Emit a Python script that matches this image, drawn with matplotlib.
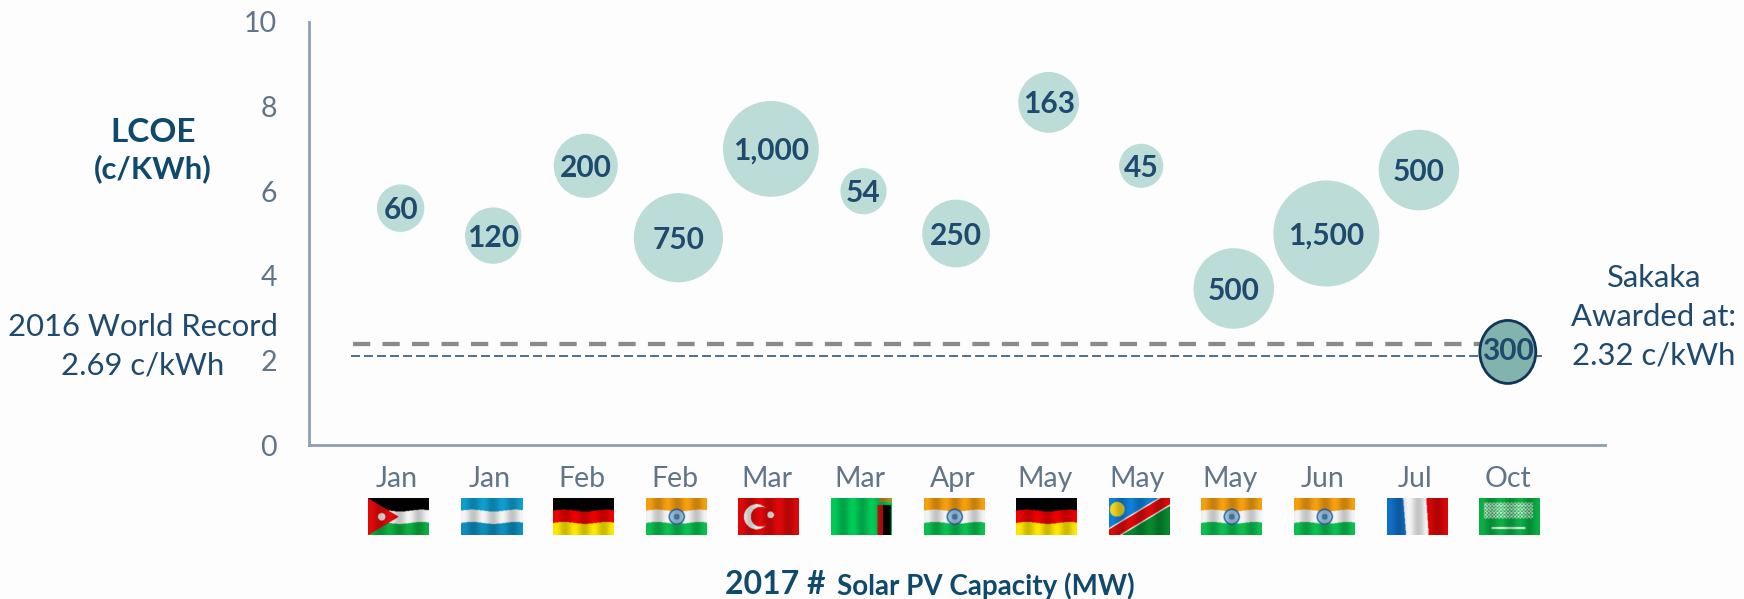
#!/usr/bin/env python3
"""LCOE of 2017 solar PV awards, bubble size follows capacity."""

import matplotlib
import numpy as np

matplotlib.use("Agg")
import matplotlib.pyplot as plt
from matplotlib.patches import Ellipse

WIDTH, HEIGHT = 1744, 599

months = ["Jan", "Jan", "Feb", "Feb", "Mar", "Mar", "Apr", "May", "May", "May", "Jun", "Jul", "Oct"]
countries = [
    "jordan", "honduras", "germany", "india", "turkey", "zambia", "india",
    "germany", "namibia", "india", "india", "france", "saudi",
]
lcoe = [5.6, 4.95, 6.6, 4.9, 7.0, 6.0, 5.0, 8.1, 6.6, 3.7, 5.0, 6.5]
capacity = [60, 120, 200, 750, 1000, 54, 250, 163, 45, 500, 1500, 500]
capacity_labels = ["60", "120", "200", "750", "1,000", "54", "250", "163", "45", "500", "1,500", "500"]
sakaka_lcoe = 2.2
sakaka_capacity = "300"
record_line = 2.38
sakaka_line = 2.1
y_ticks = [0, 2, 4, 6, 8, 10]

FONT = "Lato"
BLUE = "#1f4a6e"
TITLE_BLUE = "#0f4a6c"
GREY = "#617589"
AXIS = "#8f9fb0"
BUBBLE = "#bbdcd7"


def _flag(name: str) -> np.ndarray:
    h, w = 74, 122
    yy, xx = np.mgrid[0:h, 0:w]
    u, t = xx / w, yy / h
    # cloth ripple bends the stripes a little
    v = t + 0.025 * np.sin(u * 9.0)
    img = np.ones((h, w, 3))
    ar = w / h

    def paint(mask, color):
        img[mask] = np.array(matplotlib.colors.to_rgb(color))

    def stripes(colors):
        n = len(colors)
        for i, color in enumerate(colors):
            paint((v >= (i / n if i else -1)) & (v < ((i + 1) / n if i < n - 1 else 2)), color)

    if name == "germany":
        stripes(["#000000", "#ee0000", "#ffe800"])
    elif name == "honduras":
        stripes(["#0f9fd0", "#f4f4f4", "#0f8fc0"])
    elif name == "india":
        stripes(["#f7a010", "#f4f4f4", "#0cc050"])
        disc = np.hypot((u - 0.5) * ar, t - 0.5)
        paint(disc < 0.22, "#3070b0")
        paint(disc < 0.18, "#a8cce6")
        paint(disc < 0.08, "#4a8cc4")
    elif name == "jordan":
        stripes(["#000000", "#f4f4f4", "#0cb040"])
        paint(u < 0.5 * (1 - np.abs(t - 0.5) * 2), "#e20a0a")
        paint(np.hypot((u - 0.22) * ar, t - 0.5) < 0.1, "#f4f4f4")
    elif name == "turkey":
        img[:] = matplotlib.colors.to_rgb("#e00808")
        outer = np.hypot((u - 0.30) * ar, t - 0.5)
        inner = np.hypot((u - 0.37) * ar, t - 0.5)
        paint((outer < 0.34) & (inner > 0.27), "#f6f6f6")
        paint(np.hypot((u - 0.53) * ar, t - 0.45) < 0.09, "#f6f6f6")
    elif name == "zambia":
        img[:] = matplotlib.colors.to_rgb("#00cc58")
        paint((u > 0.76) & (u <= 0.85) & (t > 0.18), "#d81010")
        paint((u > 0.85) & (u <= 0.98) & (t > 0.18), "#000000")
        paint((u > 0.78) & (t <= 0.1), "#c08a20")
    elif name == "france":
        img[:] = matplotlib.colors.to_rgb("#f6f6f6")
        paint(u < 0.26 + 0.05 * t, "#1070c8")
        paint(u > 0.64 + 0.04 * t, "#dd0606")
    elif name == "namibia":
        d = t - 1.0 + u
        img[:] = matplotlib.colors.to_rgb("#1080d8")
        paint(d > 0.12, "#068a30")
        paint(np.abs(d) < 0.2, "#f6f6f6")
        paint(np.abs(d) < 0.16, "#dd0a0a")
        paint(np.hypot((u - 0.13) * ar, t - 0.3) < 0.2, "#f0d820")
    elif name == "saudi":
        img[:] = matplotlib.colors.to_rgb("#0ab044")
        script = (np.abs(t - 0.33) < 0.22) & (u > 0.08) & (u < 0.88)
        paint(script & (np.sin(xx * 0.9) * np.sin(yy * 0.9) > -0.05), "#dff0e4")
        paint((np.abs(t - 0.8) < 0.025) & (u > 0.2) & (u < 0.76), "#eef6f0")
    # soft vertical folds
    shade = 0.9 + 0.1 * np.sin(u * 20.0 + 0.8)
    return np.clip(img * shade[..., None], 0, 1)


def main() -> int:
    fig = plt.figure(figsize=(WIDTH / 100, HEIGHT / 100), dpi=100, facecolor="#fdfdfd")
    ax = fig.add_axes([309 / WIDTH, 1 - 445 / HEIGHT, 1296 / WIDTH, 423 / HEIGHT], facecolor="none")

    ax.set_xlim(-0.95, 13.05)
    ax.set_ylim(0, 10)
    for side in ["top", "right"]:
        ax.spines[side].set_visible(False)
    for side in ["left", "bottom"]:
        ax.spines[side].set_color(AXIS)
        ax.spines[side].set_linewidth(2.0)

    ax.set_yticks(y_ticks)
    ax.tick_params(axis="y", length=0, pad=23, labelsize=20.5, labelcolor=GREY)
    ax.set_xticks(range(len(months)))
    ax.set_xticklabels(months)
    ax.tick_params(axis="x", length=0, pad=15, labelsize=20.5, labelcolor=GREY)
    for label in ax.get_xticklabels() + ax.get_yticklabels():
        label.set_fontfamily(FONT)

    xs = np.arange(len(lcoe)) + 0.04
    # radius grows with the fourth root of capacity
    radius_px = 53.0 * (np.array(capacity) / 1500.0) ** 0.25
    ax.scatter(xs, lcoe, s=(2 * radius_px * 0.72) ** 2, color=BUBBLE, linewidths=0, zorder=2, clip_on=False)
    for x, y, text in zip(xs, lcoe, capacity_labels):
        ax.annotate(text, (x, y), xytext=(0, -1.5), textcoords="offset points", ha="center", va="center",
                    fontsize=21.5, fontweight="bold", color=BLUE, family=FONT, zorder=4)

    x_per_px = 14.0 / 1296
    y_per_px = 10.0 / 423
    ax.plot([-0.475, 11.98], [record_line, record_line], color="#8a8a8a", lw=3.1,
            dashes=(4.0, 2.85), zorder=1)
    ax.plot([-0.5, 12.37], [sakaka_line, sakaka_line], color=BLUE, lw=1.1,
            dashes=(5.89, 2.62), zorder=1)
    ax.add_patch(Ellipse((12.0, sakaka_lcoe), 56 * x_per_px, 63 * y_per_px, facecolor="#82b4ad",
                         edgecolor="#12355b", linewidth=2.0, zorder=3, clip_on=False))
    ax.text(12.0, sakaka_lcoe + 0.03, sakaka_capacity, ha="center", va="center", fontsize=21.5,
            fontweight="bold", color=BLUE, family=FONT, zorder=4)

    def px_text(x, y, text, size, color=BLUE, weight="normal", ha="center"):
        fig.text(x / WIDTH, 1 - y / HEIGHT, text, fontsize=size, color=color, fontweight=weight,
                 ha=ha, va="center", family=FONT)

    px_text(153, 132, "LCOE", 24, TITLE_BLUE, "bold")
    px_text(153, 169, "(c/KWh)", 22.3, TITLE_BLUE, "bold")
    px_text(143, 327, "2016 World Record", 22.3)
    px_text(143, 365, "2.69 c/kWh", 22.3)
    px_text(1654, 278, "Sakaka", 22.3)
    px_text(1654, 317, "Awarded at:", 22.3)
    px_text(1654, 355, "2.32 c/kWh", 22.3)
    px_text(725, 585, "2017 #", 23, TITLE_BLUE, "bold", "left")
    px_text(837, 586, "Solar PV Capacity (MW)", 20, TITLE_BLUE, "bold", "left")

    for i, name in enumerate(countries):
        left = 368 + i * 92.6
        flag_ax = fig.add_axes([left / WIDTH, 1 - 535 / HEIGHT, 61 / WIDTH, 37 / HEIGHT])
        flag_ax.imshow(_flag(name), aspect="auto", interpolation="bilinear")
        flag_ax.axis("off")

    fig.savefig("out.png", dpi=100, facecolor=fig.get_facecolor())
    plt.close(fig)
    return 0


if __name__ == "__main__":
    raise SystemExit(main())
